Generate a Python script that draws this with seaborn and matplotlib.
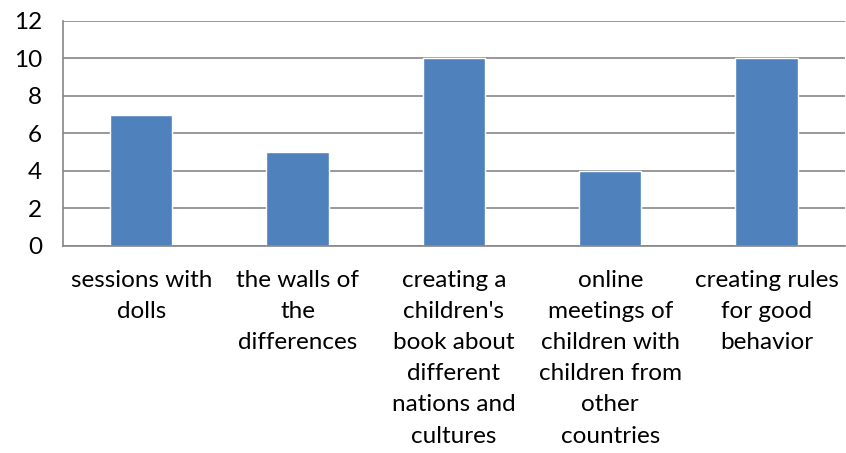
import matplotlib
matplotlib.use('Agg')
import matplotlib.pyplot as plt
import seaborn as sns

# 数据
categories = ['sessions with\ndolls',
              'the walls of\nthe\ndifferences',
              "creating a\nchildren's\nbook about\ndifferent\nnations and\ncultures",
              'online\nmeetings of\nchildren with\nchildren from\nother\ncountries',
              'creating rules\nfor good\nbehavior']
values = [7, 5, 10, 4, 10]

sns.set_style('white')
plt.rcParams['font.family'] = ['Lato', 'DejaVu Sans']

fig = plt.figure(figsize=(8.46, 4.53), dpi=100)
ax = fig.add_axes([0.0745, 0.457, 0.924, 0.497])

sns.barplot(x=categories, y=values, color='#4F81BD', saturation=1, width=0.4, ax=ax)

ax.set_ylim(0, 12)
ax.set_xlim(-0.5, 4.5)
ax.set_yticks(range(0, 13, 2))
ax.yaxis.grid(True, color='#868686', linewidth=1.2)
ax.set_axisbelow(True)

for s in ['top', 'right']:
    ax.spines[s].set_visible(False)
for s in ['left', 'bottom']:
    ax.spines[s].set_color('#868686')
    ax.spines[s].set_linewidth(1.2)

# 分类边界刻度
ax.set_xticks([i - 0.5 for i in range(6)], minor=True)
ax.tick_params(axis='x', which='minor', length=8, color='#868686', width=1.2, direction='out')
ax.tick_params(axis='x', which='major', length=0, pad=17, labelsize=17.5, labelcolor='black')
ax.tick_params(axis='y', length=8, color='#868686', width=1.2, direction='out',
               labelsize=17.5, pad=7, labelcolor='black')
for t in ax.get_xticklabels():
    t.set_linespacing(1.6)
    t.set_verticalalignment('top')

plt.savefig('out.png', dpi=100)
